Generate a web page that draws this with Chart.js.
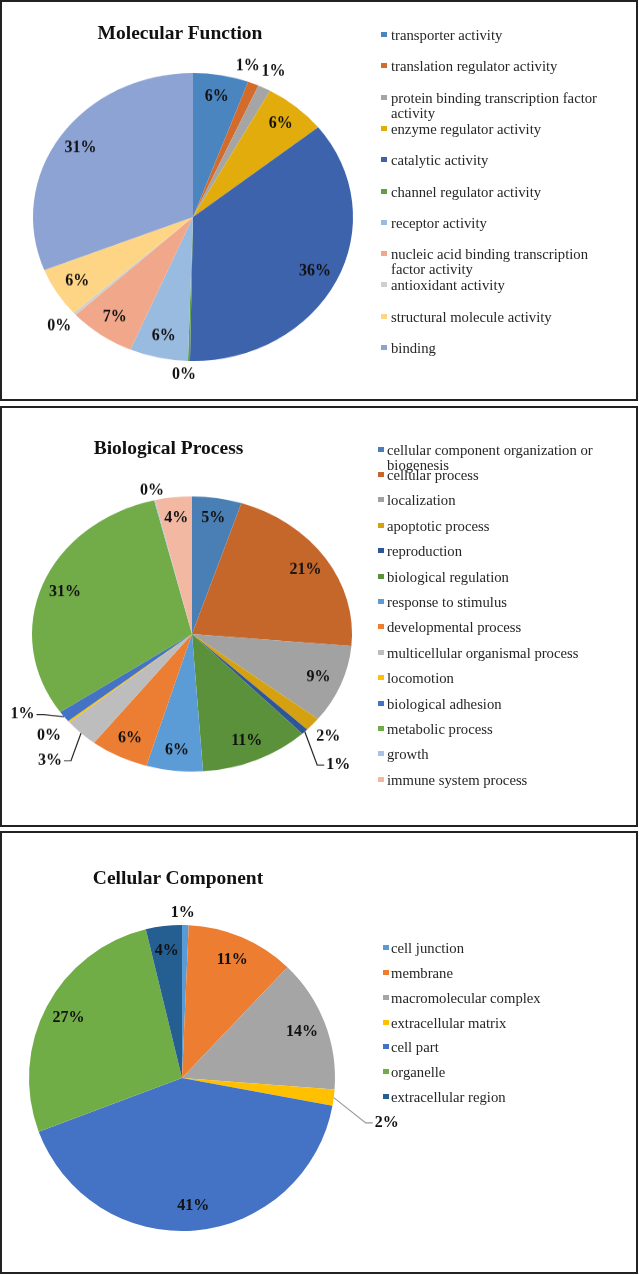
<!DOCTYPE html>
<html lang="en">
<head>
<meta charset="UTF-8" />
<title>GO classification</title>
<script src="https://cdn.jsdelivr.net/npm/chart.js"></script>
<style>
  html, body { margin: 0; padding: 0; overflow: hidden; background: #fff; }
  body { width: 639px; height: 1275px; position: relative; font-family: "Liberation Serif", "Times New Roman", serif; }
  .panel { position: absolute; left: 0; width: 634px; border: 2px solid #222; }
  .title { position: absolute; width: 320px; text-align: center; font-weight: bold; font-size: 19.5px; line-height: 19.5px; color: #111; white-space: nowrap; }
  .pie { position: absolute; width: 460px; height: 460px; transform-origin: 50% 50%; }
  .mark { position: absolute; width: 6px; height: 5px; }
  .item { position: absolute; font-size: 14.7px; line-height: 15px; color: #262626; }
</style>
</head>
<body>

  <div class="panel" style="top:0; height:397px"></div>
  <div class="panel" style="top:406px; height:417px"></div>
  <div class="panel" style="top:831px; height:439px"></div>

  <div class="pie" id="wrap1"><canvas id="mfChart" width="460" height="460"></canvas></div>
  <div class="pie" id="wrap2"><canvas id="bpChart" width="460" height="460"></canvas></div>
  <div class="pie" id="wrap3"><canvas id="ccChart" width="460" height="460"></canvas></div>

<script>
  // Molecular Function
  const mfCategories = ['transporter activity', 'translation regulator activity',
    'protein binding transcription factor activity', 'enzyme regulator activity',
    'catalytic activity', 'channel regulator activity', 'receptor activity',
    'nucleic acid binding transcription factor activity', 'antioxidant activity',
    'structural molecule activity', 'binding'];
  const mfValues = [5.6, 1.1, 1.3, 6.3, 36.0, 0.2, 5.9, 6.7, 0.3, 5.6, 31.0];
  const mfColors = ['#4A85C0', '#D36B2B', '#A5A5A5', '#E1AC0C', '#3D63AD', '#5EA047',
    '#9ABBE0', '#F0A78A', '#CFCFCF', '#FDD585', '#8DA3D4'];

  // Biological Process
  const bpCategories = ['cellular component organization or biogenesis', 'cellular process',
    'localization', 'apoptotic process', 'reproduction', 'biological regulation',
    'response to stimulus', 'developmental process', 'multicellular organismal process',
    'locomotion', 'biological adhesion', 'metabolic process', 'growth', 'immune system process'];
  const bpValues = [5.0, 21.4, 9.2, 1.6, 0.7, 11.0, 5.7, 5.9, 3.4, 0.2, 1.3, 30.8, 0.1, 3.7];
  const bpColors = ['#4A7FB6', '#C5662A', '#A2A2A2', '#D6A110', '#2E5597', '#5A913A',
    '#5C9CD6', '#EC7E33', '#BDBDBD', '#FFC000', '#4472C4', '#71AC48', '#A8C3E6', '#F3B8A2'];

  // Cellular Component
  const ccCategories = ['cell junction', 'membrane', 'macromolecular complex',
    'extracellular matrix', 'cell part', 'organelle', 'extracellular region'];
  const ccValues = [0.7, 11.4, 14.1, 1.7, 41.4, 26.9, 3.8];
  const ccColors = ['#5B9BD5', '#ED7D31', '#A5A5A5', '#FFC000', '#4472C4', '#70AD47', '#255E91'];

  // percentage labels, inside or pushed out (with optional leader line)
  function pctLabels(cfg) {
    return {
      id: 'pctLabels',
      afterDatasetsDraw(chart) {
        const ctx = chart.ctx;
        const meta = chart.getDatasetMeta(0);
        const values = chart.data.datasets[0].data;
        const total = values.reduce((a, b) => a + b, 0);
        ctx.save();
        ctx.font = 'bold 16px "Liberation Serif", serif';
        ctx.fillStyle = '#111';
        ctx.textAlign = 'center';
        ctx.textBaseline = 'middle';
        meta.data.forEach((arc, i) => {
          const p = arc.getProps(['x', 'y', 'startAngle', 'endAngle', 'outerRadius'], true);
          const txt = Math.round(values[i] / total * 100) + '%';
          const mid = (p.startAngle + p.endAngle) / 2;
          const c = cfg.callouts[i];
          const a = c ? mid + (c.da || 0) * Math.PI / 180 : mid;
          const r = p.outerRadius * (c ? c.r : cfg.inside);
          const lx = p.x + Math.cos(a) * r;
          const ly = p.y + Math.sin(a) * r;
          if (c && c.leader) {
            const w = ctx.measureText(txt).width;
            const side = lx > p.x ? -1 : 1;
            const x2 = lx + side * (w / 2 + 2);
            const x1 = x2 + side * 7;
            ctx.beginPath();
            ctx.moveTo(p.x + Math.cos(mid) * p.outerRadius, p.y + Math.sin(mid) * p.outerRadius);
            ctx.lineTo(x1, ly);
            ctx.lineTo(x2, ly);
            ctx.strokeStyle = c.color || '#222';
            ctx.lineWidth = 1.2;
            ctx.stroke();
          }
          ctx.save();
          ctx.translate(lx, ly);
          ctx.scale(1, 1 / cfg.squash);
          ctx.fillText(txt, 0, 0);
          ctx.restore();
        });
        ctx.restore();
      }
    };
  }

  function makePie(id, wrapId, cats, values, colors, o) {
    const wrap = document.getElementById(wrapId);
    wrap.style.left = (o.cx - 230) + 'px';
    wrap.style.top = (o.cy - 230) + 'px';
    wrap.style.transform = 'scaleY(' + o.squash + ')';
    return new Chart(document.getElementById(id), {
      type: 'pie',
      data: {
        labels: cats,
        datasets: [{ data: values, backgroundColor: colors, borderWidth: 0, radius: o.radius }]
      },
      options: {
        responsive: false,
        animation: false,
        layout: { padding: 0 },
        plugins: { legend: { display: false }, tooltip: { enabled: false } }
      },
      plugins: [pctLabels({ squash: o.squash, inside: o.inside, callouts: o.callouts })]
    });
  }

  function addTitle(text, cx, baseline) {
    const d = document.createElement('div');
    d.className = 'title';
    d.textContent = text;
    d.style.left = (cx - 160) + 'px';
    d.style.top = (baseline - 16.3) + 'px';
    document.body.appendChild(d);
  }

  function addLegend(cats, colors, o) {
    cats.forEach((name, i) => {
      const base = o.base + i * o.step;
      const m = document.createElement('div');
      m.className = 'mark';
      m.style.left = o.markX + 'px';
      m.style.top = (base - 8.5) + 'px';
      m.style.background = colors[i];
      const t = document.createElement('div');
      t.className = 'item';
      t.textContent = name;
      t.style.left = o.textX + 'px';
      t.style.top = (base - 12.5) + 'px';
      t.style.width = o.width + 'px';
      document.body.appendChild(m);
      document.body.appendChild(t);
    });
  }

  makePie('mfChart', 'wrap1', mfCategories, mfValues, mfColors, {
    cx: 192.5, cy: 216.5, radius: 160, squash: 0.9, inside: 0.85,
    callouts: { 1: { r: 1.1, da: -4 }, 2: { r: 1.13 }, 5: { r: 1.1, da: 1.5 }, 8: { r: 1.13 } }
  });
  makePie('bpChart', 'wrap2', bpCategories, bpValues, bpColors, {
    cx: 192, cy: 633.5, radius: 160, squash: 0.86, inside: 0.85,
    callouts: {
      3: { r: 1.13 }, 4: { r: 1.32, da: 1, leader: true }, 8: { r: 1.28, leader: true },
      9: { r: 1.16 }, 10: { r: 1.21, da: 8, leader: true }, 12: { r: 1.07 }
    }
  });
  makePie('ccChart', 'wrap3', ccCategories, ccValues, ccColors, {
    cx: 182, cy: 1078, radius: 153, squash: 1, inside: 0.84,
    callouts: { 0: { r: 1.08, da: -1 }, 3: { r: 1.37, da: 5, leader: true, color: '#999' } }
  });

  addTitle('Molecular Function', 180, 39);
  addTitle('Biological Process', 168.5, 454.5);
  addTitle('Cellular Component', 178, 884);

  addLegend(mfCategories, mfColors, { markX: 381, textX: 391, base: 40.7, step: 31.27, width: 222 });
  addLegend(bpCategories, bpColors, { markX: 377.5, textX: 387, base: 455, step: 25.4, width: 222 });
  addLegend(ccCategories, ccColors, { markX: 383, textX: 391, base: 953.3, step: 24.9, width: 222 });
</script>
</body>
</html>
